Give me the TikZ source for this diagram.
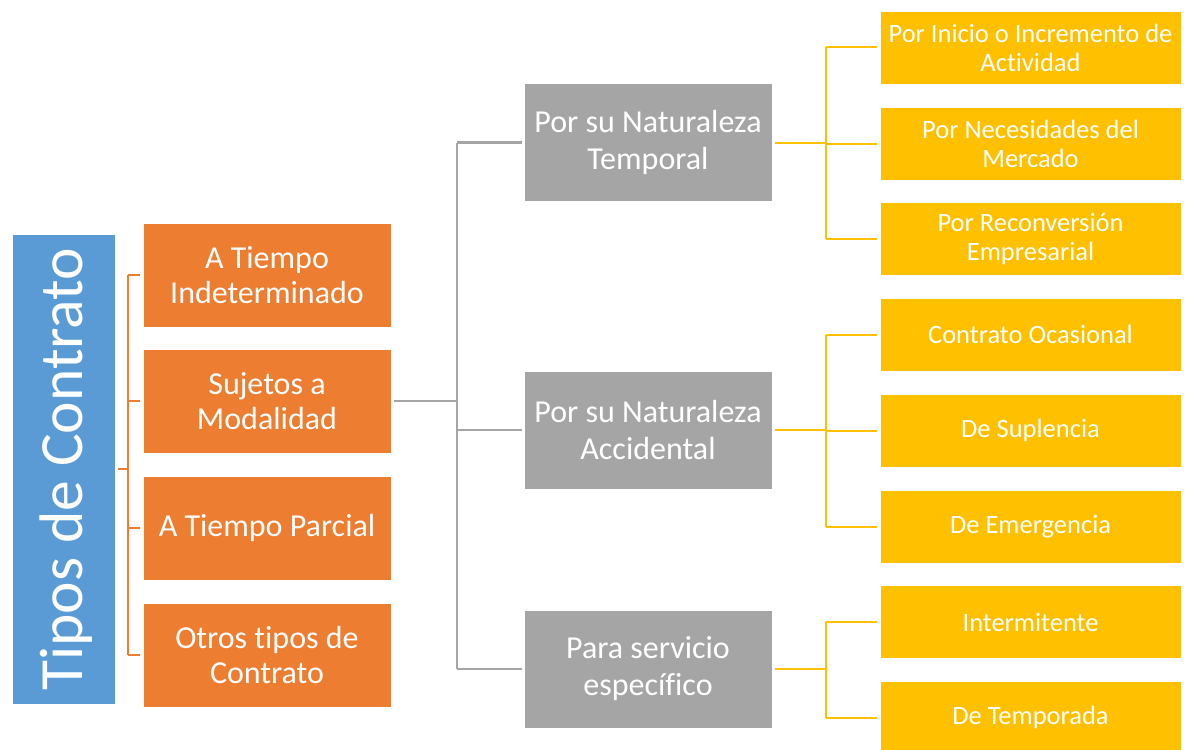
\documentclass[tikz,border=0pt]{standalone}
\usepackage{fontspec}
\setmainfont{Carlito}[Ligatures=NoCommon]
\definecolor{cblue}{HTML}{5B9BD5}
\definecolor{corange}{HTML}{ED7D31}
\definecolor{cgray}{HTML}{A5A5A5}
\definecolor{cyellow}{HTML}{FFC000}
\tikzset{
  x=1pt, y=-1pt,
  basebox/.style={rectangle, inner sep=0pt, align=center, text=white, draw=white, line width=0.6pt},
  bluebox/.style={basebox, fill=cblue, minimum width=103pt, minimum height=470pt},
  bluetext/.style={rotate=90, inner sep=0pt, text=white, font=\fontsize{61.5}{72}\selectfont},
  orangebox/.style={basebox, fill=corange, minimum width=248pt, minimum height=104pt, font=\fontsize{32}{35}\selectfont},
  graybox/.style={basebox, fill=cgray, minimum width=248pt, minimum height=118pt, font=\fontsize{32}{37}\selectfont},
  yellowbox/.style={basebox, fill=cyellow, minimum width=301pt, minimum height=73pt, font=\fontsize{26.5}{29}\selectfont},
  oline/.style={draw=corange, line width=2pt},
  gline/.style={draw=cgray, line width=2.5pt},
  yline/.style={draw=cyellow, line width=2pt},
}
\begin{document}
\begin{tikzpicture}
\clip (0,0) rectangle (1190,749);
\fill[white] (0,0) rectangle (1190,749);
% blue root
\node[bluebox] (blue) at (63.5,469) {};
\node[bluetext] (bluelabel) at (66,469) {Tipos de Contrato};
% orange
\node[orangebox] (o1) at (267,275) {A Tiempo\\Indeterminado};
\node[orangebox] (o2) at (267,401) {Sujetos a\\Modalidad};
\node[orangebox] (o3) at (267,528) {A Tiempo Parcial};
\node[orangebox] (o4) at (267,655) {Otros tipos de\\Contrato};
% gray
\node[graybox] (g1) at (648,142.5) {Por su Naturaleza\\Temporal};
\node[graybox] (g2) at (648,430) {Por su Naturaleza\\Accidental};
\node[graybox] (g3) at (648,669) {Para servicio\\específico};
% yellow
\node[yellowbox] (y1) at (1030.5,47.5) {Por Inicio o Incremento de\\Actividad};
\node[yellowbox] (y2) at (1030.5,143.5) {Por Necesidades del\\Mercado};
\node[yellowbox] (y3) at (1030.5,239) {Por Reconversión\\Empresarial};
\node[yellowbox] (y4) at (1030.5,334.5) {Contrato Ocasional};
\node[yellowbox] (y5) at (1030.5,430.5) {De Suplencia};
\node[yellowbox] (y6) at (1030.5,526.5) {De Emergencia};
\node[yellowbox] (y7) at (1030.5,622) {Intermitente};
\node[yellowbox] (y8) at (1030.5,717.5) {De Temporada};
% orange connectors
\coordinate (ob) at (128,469);
\draw[oline, shorten <=3pt] (blue.east |- ob) -- (ob);
\draw[oline, shorten >=3pt] (o1.west -| ob) -- (o1.west);
\draw[oline, shorten >=3pt] (o2.west -| ob) -- (o2.west);
\draw[oline, shorten >=3pt] (o3.west -| ob) -- (o3.west);
\draw[oline, shorten >=3pt] (o4.west -| ob) -- (o4.west);
\draw[oline] (o1.west -| ob) -- (o4.west -| ob);
% gray connectors
\coordinate (gb) at (457,401);
\draw[gline, shorten <=3pt] (o2.east) -- (gb);
\draw[gline] (g1.west -| gb) -- (g3.west -| gb);
\draw[gline, shorten >=2pt] (g1.west -| gb) -- (g1.west);
\draw[gline, shorten >=2pt] (g2.west -| gb) -- (g2.west);
\draw[gline, shorten >=2pt] (g3.west -| gb) -- (g3.west);
% yellow connectors
\coordinate (yb1) at (826,143);
\coordinate (yb2) at (826,430);
\coordinate (yb3) at (826,669);
\draw[yline, shorten <=3pt] (g1.east) -- (g1.east -| yb1);
\draw[yline] (y1.west -| yb1) -- (y3.west -| yb1);
\draw[yline, shorten >=3pt] (y1.west -| yb1) -- (y1.west);
\draw[yline, shorten >=3pt] (y2.west -| yb1) -- (y2.west);
\draw[yline, shorten >=3pt] (y3.west -| yb1) -- (y3.west);
\draw[yline, shorten <=3pt] (g2.east) -- (g2.east -| yb2);
\draw[yline] (y4.west -| yb2) -- (y6.west -| yb2);
\draw[yline, shorten >=3pt] (y4.west -| yb2) -- (y4.west);
\draw[yline, shorten >=3pt] (y5.west -| yb2) -- (y5.west);
\draw[yline, shorten >=3pt] (y6.west -| yb2) -- (y6.west);
\draw[yline, shorten <=3pt] (g3.east) -- (g3.east -| yb3);
\draw[yline] (y7.west -| yb3) -- (y8.west -| yb3);
\draw[yline, shorten >=3pt] (y7.west -| yb3) -- (y7.west);
\draw[yline, shorten >=3pt] (y8.west -| yb3) -- (y8.west);
\end{tikzpicture}
\end{document}
